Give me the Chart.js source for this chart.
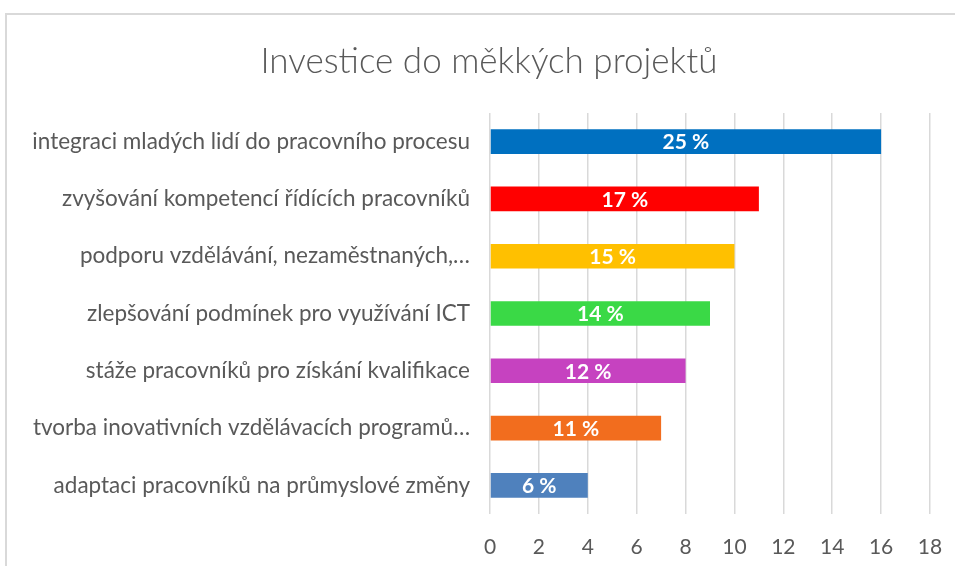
<!DOCTYPE html>
<html>
<head>
<meta charset="utf-8">
<script src="https://cdn.jsdelivr.net/npm/chart.js@4/dist/chart.umd.min.js"></script>
<style>
  html, body { margin: 0; padding: 0; background: #ffffff; overflow: hidden; }
  #frame { position: absolute; left: 5px; top: 13px; width: 960px; height: 560px;
           border-left: 2px solid #d9d9d9; border-top: 2px solid #d9d9d9; }
  #wrap { position: absolute; left: 0; top: 0; width: 955px; height: 566px; }
</style>
</head>
<body>
<div id="frame"></div>
<div id="wrap"><canvas id="c" width="955" height="566"></canvas></div>
<script>
const categories = [
  "integraci mladých lidí do pracovního procesu",
  "zvyšování kompetencí řídících pracovníků",
  "podporu vzdělávání, nezaměstnaných,…",
  "zlepšování podmínek pro využívání ICT",
  "stáže pracovníků pro získání kvalifikace",
  "tvorba inovativních vzdělávacích programů…",
  "adaptaci pracovníků na průmyslové změny"
];
const values = [16, 11, 10, 9, 8, 7, 4];
const pctLabels = ["25 %", "17 %", "15 %", "14 %", "12 %", "11 %", "6 %"];
const barColors = ["#0070C0", "#FF0000", "#FFC000", "#3AD946", "#C642C0", "#F26D1E", "#4F81BD"];
const xTicks = [0, 2, 4, 6, 8, 10, 12, 14, 16, 18];

const labelFont = "Lato";

const barLabelPlugin = {
  id: 'barLabels',
  afterLayout(chart) {
    if (chart.titleBlock) { chart.titleBlock.left = 48; chart.titleBlock.right = 930; }
  },
  afterDatasetsDraw(chart) {
    const ctx = chart.ctx;
    const meta = chart.getDatasetMeta(0);
    ctx.save();
    ctx.fillStyle = '#ffffff';
    ctx.font = 'bold 21px ' + labelFont;
    ctx.textAlign = 'center';
    ctx.textBaseline = 'middle';
    meta.data.forEach((bar, i) => {
      const cx = (bar.x + bar.base) / 2;
      ctx.fillText(pctLabels[i], cx, bar.y + 1);
    });
    ctx.restore();
  }
};

new Chart(document.getElementById('c'), {
  type: 'bar',
  data: {
    labels: categories,
    datasets: [{
      data: values,
      backgroundColor: barColors,
      borderWidth: 0,
      barPercentage: 0.43,
      categoryPercentage: 1.0
    }]
  },
  options: {
    indexAxis: 'y',
    responsive: false,
    animation: false,
    layout: { padding: { left: 0, right: 0, top: 0, bottom: 8 } },
    plugins: {
      legend: { display: false },
      tooltip: { enabled: false },
      title: {
        display: true,
        text: 'Investice do měkkých projektů',
        color: '#595959',
        font: { family: labelFont, size: 35, weight: '300' },
        padding: { top: 41, bottom: 30 }
      }
    },
    scales: {
      x: {
        min: 0, max: 18,
        afterBuildTicks(scale) { scale.ticks = xTicks.map(v => ({ value: v })); },
        afterFit(scale) { scale.height = 44; scale.paddingRight = 25; },
        grid: { color: '#d9d9d9', lineWidth: 1.5, drawTicks: false },
        border: { display: false },
        ticks: { color: '#595959', font: { family: labelFont, size: 21 }, padding: 21, maxRotation: 0 }
      },
      y: {
        afterFit(scale) { scale.width = 490; },
        grid: { display: false, drawTicks: false },
        border: { display: false },
        ticks: { color: '#595959', font: { family: labelFont, size: 22.5 }, padding: 20 }
      }
    }
  },
  plugins: [barLabelPlugin]
});
</script>
</body>
</html>
